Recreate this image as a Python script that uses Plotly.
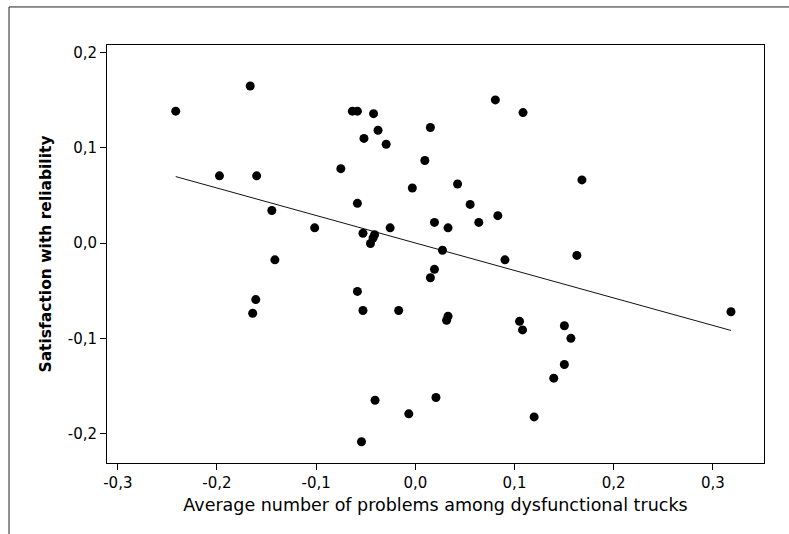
import numpy as np
import plotly.graph_objects as go

# Data
avg_problems = [
    -0.2416, -0.1665, -0.1975, -0.1600, -0.1447, -0.1416, -0.1609, -0.1640,
    -0.1015, -0.0751, -0.0635, -0.0584, -0.0421, -0.0376, -0.0518, -0.0294,
    -0.0584, -0.0528, -0.0411, -0.0426, -0.0452, -0.0254, -0.0584, -0.0528,
    -0.0168, -0.0406, -0.0543, -0.0066, -0.0030, 0.0096, 0.0152, 0.0193,
    0.0330, 0.0274, 0.0193, 0.0152, 0.0330, 0.0315, 0.0208, 0.0426,
    0.0553, 0.0640, 0.0807, 0.0832, 0.0904, 0.1086, 0.1051, 0.1081,
    0.1198, 0.1396, 0.1503, 0.1503, 0.1569, 0.1629, 0.1680, 0.3183,
]
satisfaction = [
    0.1386, 0.1650, 0.0707, 0.0707, 0.0343, -0.0175, -0.0593, -0.0736,
    0.0161, 0.0782, 0.1386, 0.1386, 0.1360, 0.1186, 0.1100, 0.1039,
    0.0418, 0.0104, 0.0089, 0.0054, -0.0004, 0.0161, -0.0507, -0.0707,
    -0.0707, -0.1650, -0.2086, -0.1793, 0.0579, 0.0868, 0.1214, 0.0218,
    0.0161, -0.0075, -0.0275, -0.0364, -0.0768, -0.0811, -0.1621, 0.0621,
    0.0407, 0.0218, 0.1504, 0.0289, -0.0175, 0.1371, -0.0821, -0.0911,
    -0.1825, -0.1418, -0.1275, -0.0868, -0.1000, -0.0129, 0.0664, -0.0721,
]
x_tick_vals = [-0.3, -0.2, -0.1, 0.0, 0.1, 0.2, 0.3]
x_tick_text = ["-0,3", "-0,2", "-0,1", "0,0", "0,1", "0,2", "0,3"]
y_tick_vals = [-0.2, -0.1, 0.0, 0.1, 0.2]
y_tick_text = ["-0,2", "-0,1", "0,0", "0,1", "0,2"]

x = np.array(avg_problems)
y = np.array(satisfaction)
slope, intercept = np.polyfit(x, y, 1)
line_x = np.array([x.min(), x.max()])
line_y = slope * line_x + intercept

fig = go.Figure()
fig.add_trace(go.Scatter(x=line_x, y=line_y, mode="lines",
                         line=dict(color="#111111", width=1), hoverinfo="skip"))
fig.add_trace(go.Scatter(x=x, y=y, mode="markers",
                         marker=dict(color="black", size=9)))

font_family = "Tahoma, 'DejaVu Sans', sans-serif"
fig.update_layout(
    width=789, height=534,
    margin=dict(l=107, r=25, t=45, b=71),
    paper_bgcolor="white", plot_bgcolor="white",
    showlegend=False,
    font=dict(family=font_family, color="black", size=15),
    xaxis=dict(
        range=[-0.3109, 0.3516], tickvals=x_tick_vals, ticktext=x_tick_text,
        showgrid=False, zeroline=False, showline=True, mirror=True,
        linecolor="black", linewidth=1, ticks="outside", ticklen=6,
        tickcolor="black", tickfont=dict(size=15),
        title=dict(text="Average number of problems among dysfunctional trucks",
                   font=dict(size=17.5), standoff=7),
    ),
    yaxis=dict(
        range=[-0.2309, 0.2081], tickvals=y_tick_vals, ticktext=y_tick_text,
        showgrid=False, zeroline=False, showline=True, mirror=True,
        linecolor="black", linewidth=1, ticks="outside", ticklen=6,
        tickcolor="black", tickfont=dict(size=15),
        title=dict(text="<b>Satisfaction with reliability</b>",
                   font=dict(size=15.5), standoff=12),
    ),
    shapes=[dict(type="rect", xref="paper", yref="paper",
                 x0=-0.1491, x1=1.08, y0=-0.25, y1=1.091,
                 line=dict(color="#222222", width=1))],
)

fig.write_html("out.html")
